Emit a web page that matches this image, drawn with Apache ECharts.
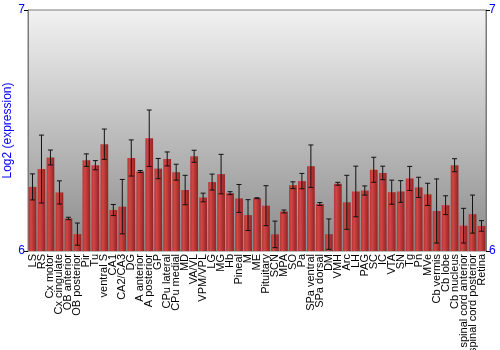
<!DOCTYPE html>
<html>
<head>
<meta charset="utf-8">
<script src="https://cdn.jsdelivr.net/npm/echarts@6/dist/echarts.min.js"></script>
<style>html,body{margin:0;padding:0;background:#fff}#c{width:500px;height:350px}</style>
</head>
<body>
<div id="c"></div>
<script>
const categories = ["LS","RS","Cx motor","Cx cingulate","OB anterior","OB posterior","Pir","Tu","ventral S","CA1","CA2/CA3","DG","A anterior","A posterior","GP","CPu lateral","CPu medial","MD","VA/VL","VPM/VPL","LG","MG","Hb","Pineal","M","ME","Pituitary","SCN","MPA","SO","Pa","SPa ventral","SPa dorsal","DM","VMH","Arc","LH","PAG","SC","IC","VTA","SN","Tg","Pn","MVe","Cb vermis","Cb lobe","Cb nucleus","spinal cord anterior","spinal cord posterior","Retina"];
const values = [6.266,6.340,6.388,6.243,6.135,6.070,6.377,6.356,6.443,6.170,6.184,6.386,6.330,6.468,6.342,6.382,6.327,6.253,6.393,6.222,6.286,6.319,6.240,6.218,6.149,6.219,6.188,6.069,6.164,6.273,6.290,6.352,6.195,6.070,6.279,6.202,6.247,6.251,6.337,6.324,6.244,6.247,6.301,6.264,6.235,6.166,6.190,6.356,6.105,6.153,6.104];
const errors = [0.054,0.141,0.031,0.048,0.005,0.046,0.026,0.019,0.063,0.023,0.113,0.075,0.004,0.117,0.042,0.029,0.033,0.061,0.025,0.018,0.033,0.082,0.006,0.058,0.064,0.002,0.083,0.055,0.006,0.014,0.032,0.088,0.006,0.063,0.006,0.112,0.105,0.019,0.052,0.028,0.050,0.045,0.050,0.042,0.046,0.133,0.039,0.027,0.072,0.079,0.022];
const yTicks = [6, 7];

const chart = echarts.init(document.getElementById('c'), null, {renderer: 'canvas'});
const errData = values.map((v, i) => [i, v - errors[i], v + errors[i]]);
const font = 'Liberation Sans, Arial, sans-serif';
chart.setOption({
  animation: false,
  grid: {
    left: 28, right: 14, top: 10, bottom: 99,
    containLabel: false,
    outerBoundsMode: 'none',
    show: true,
    borderColor: '#7a7a7a', borderWidth: 1,
    backgroundColor: new echarts.graphic.LinearGradient(0, 0, 0, 1, [
      {offset: 0, color: '#f2f2f2'},
      {offset: 1, color: '#8a8a8a'}
    ])
  },
  xAxis: {
    type: 'category',
    data: categories,
    axisLine: {show: false},
    axisTick: {show: false},
    axisLabel: {rotate: 90, interval: 0, fontSize: 11, color: '#000', fontFamily: font, margin: 3}
  },
  yAxis: [
    {
      type: 'value', min: yTicks[0], max: yTicks[1], interval: 1,
      name: 'Log2 (expression)', nameLocation: 'middle', nameGap: 14,
      nameMoveOverlap: false,
      nameTextStyle: {color: '#0000ff', fontSize: 12, fontFamily: font},
      axisLine: {show: true, lineStyle: {color: '#7a7a7a'}},
      axisTick: {show: true, length: 4, lineStyle: {color: '#000'}},
      axisLabel: {color: '#0000ff', fontSize: 12, fontFamily: font, margin: 3},
      splitLine: {show: false}
    },
    {
      type: 'value', min: yTicks[0], max: yTicks[1], interval: 1, position: 'right',
      axisLine: {show: true, lineStyle: {color: '#7a7a7a'}},
      axisTick: {show: true, length: 4, lineStyle: {color: '#000'}},
      axisLabel: {color: '#0000ff', fontSize: 12, fontFamily: font, margin: 3},
      splitLine: {show: false}
    }
  ],
  series: [
    {
      type: 'bar',
      data: values,
      barCategoryGap: '14%',
      itemStyle: {
        color: new echarts.graphic.LinearGradient(0, 0, 1, 0, [
          {offset: 0, color: '#b83434'},
          {offset: 0.3, color: '#d04646'},
          {offset: 1, color: '#942222'}
        ])
      }
    },
    {
      type: 'custom',
      data: errData,
      z: 10,
      renderItem: function (params, api) {
        const x = api.value(0);
        const lo = api.coord([x, api.value(1)]);
        const hi = api.coord([x, api.value(2)]);
        const hw = 2.5;
        const style = {stroke: '#111', lineWidth: 1};
        return {
          type: 'group',
          children: [
            {type: 'line', shape: {x1: lo[0], y1: lo[1], x2: hi[0], y2: hi[1]}, style: style},
            {type: 'line', shape: {x1: lo[0] - hw, y1: lo[1], x2: lo[0] + hw, y2: lo[1]}, style: style},
            {type: 'line', shape: {x1: hi[0] - hw, y1: hi[1], x2: hi[0] + hw, y2: hi[1]}, style: style}
          ]
        };
      }
    }
  ]
});
</script>
</body>
</html>
